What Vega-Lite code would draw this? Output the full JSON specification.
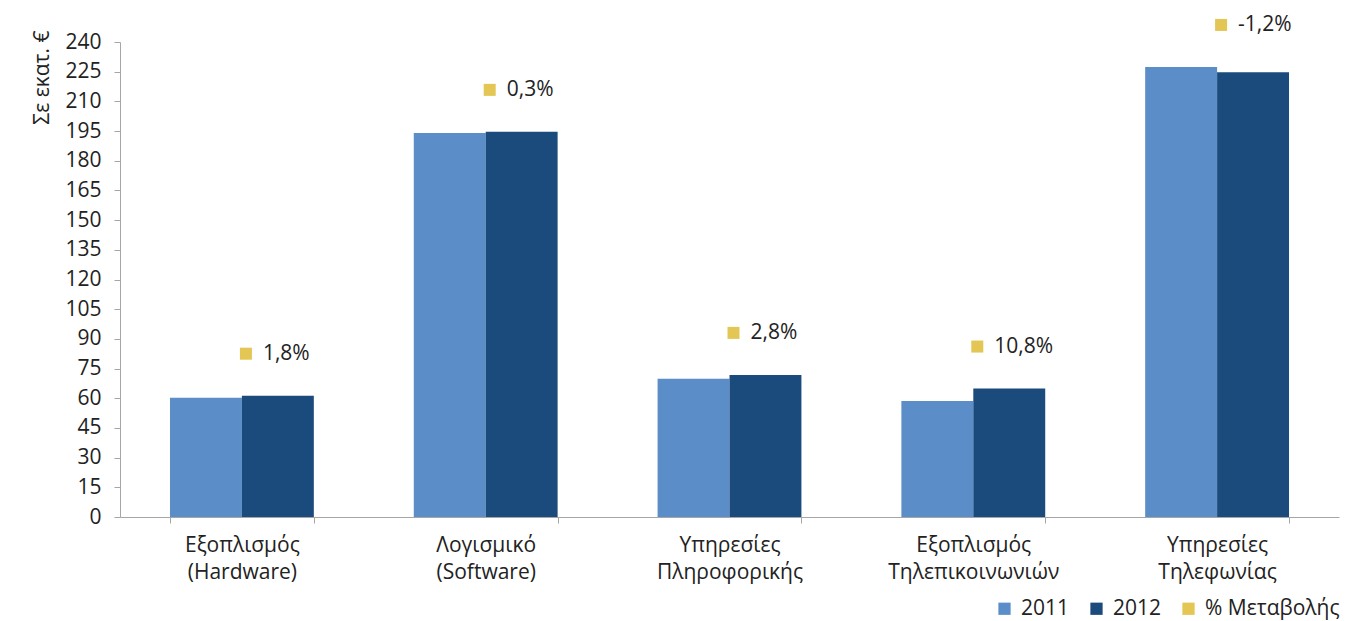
{
  "$schema": "https://vega.github.io/schema/vega-lite/v6.json",
  "autosize": {"type": "none"},
  "padding": {"left": 120, "top": 42, "right": 10, "bottom": 104},
  "width": 1219,
  "height": 475,
  "config": {
    "font": "Open Sans",
    "view": {"stroke": null},
    "axisY": {
      "values": [0, 15, 30, 45, 60, 75, 90, 105, 120, 135, 150, 165, 180, 195, 210, 225, 240],
      "labelOverlap": false, "labelBound": false,
      "grid": false, "titleFontSize": 21, "titleFontWeight": "normal",
      "titleColor": "#222222", "titleAngle": -90, "titleX": -78, "titleY": -12,
      "titleAlign": "right", "titleBaseline": "middle",
      "labelFontSize": 21, "labelColor": "#222222", "labelPadding": 13,
      "tickSize": 6, "domainColor": "#A6A6A6", "tickColor": "#A6A6A6"
    },
    "locale": {"number": {"decimal": ",", "thousands": ".", "grouping": [3], "currency": ["", " €"], "minus": "-"}}
  },
  "data": {
    "values": [
      {"cat": "Εξοπλισμός (Hardware)", "2011": 60.2, "2012": 61.3, "pct": 0.018},
      {"cat": "Λογισμικό (Software)", "2011": 194.0, "2012": 194.6, "pct": 0.003},
      {"cat": "Υπηρεσίες Πληροφορικής", "2011": 69.8, "2012": 71.8, "pct": 0.028},
      {"cat": "Εξοπλισμός Τηλεπικοινωνιών", "2011": 58.6, "2012": 64.9, "pct": 0.108},
      {"cat": "Υπηρεσίες Τηλεφωνίας", "2011": 227.4, "2012": 224.7, "pct": -0.012}
    ]
  },
  "transform": [{"fold": ["2011", "2012"], "as": ["year", "value"]}],
  "encoding": {
    "x": {
      "field": "cat", "type": "nominal", "sort": null,
      "scale": {"paddingInner": 0.41, "paddingOuter": 0.205},
      "axis": {
        "title": null, "labelAngle": 0, "tickBand": "extent",
        "labelExpr": "split(datum.label, ' ')",
        "labelFontSize": 21, "labelColor": "#222222", "labelLineHeight": 27,
        "labelPadding": 11, "tickSize": 6, "domainColor": "#A6A6A6", "tickColor": "#A6A6A6",
        "labelBaseline": "top"
      }
    }
  },
  "layer": [
    {
      "mark": {"type": "bar"},
      "encoding": {
        "xOffset": {"field": "year", "type": "nominal"},
        "y": {
          "field": "value", "type": "quantitative",
          "scale": {"domain": [0, 240], "nice": false},
          "axis": {"title": "Σε εκατ. €", "values": [0, 15, 30, 45, 60, 75, 90, 105, 120, 135, 150, 165, 180, 195, 210, 225, 240]}
        },
        "color": {
          "field": "year", "type": "nominal",
          "scale": {"domain": ["2011", "2012", "% Μεταβολής"], "range": ["#5B8DC9", "#1B4A7C", "#E3C653"]},
          "legend": {
            "title": null, "orient": "none", "legendX": 874, "legendY": 556,
            "direction": "horizontal", "columns": 3, "columnPadding": 16,
            "symbolType": "square", "symbolSize": 150, "symbolStrokeWidth": 0,
            "labelFontSize": 21, "labelColor": "#222222", "labelOffset": 6
          }
        }
      }
    },
    {
      "transform": [{"aggregate": [{"op": "max", "field": "value", "as": "top"}], "groupby": ["cat", "pct"]}],
      "mark": {"type": "point", "shape": "square", "filled": true, "size": 144, "opacity": 1, "xOffset": 4, "yOffset": -42},
      "encoding": {
        "y": {"field": "top", "type": "quantitative", "axis": {"title": "Σε εκατ. €", "values": [0, 15, 30, 45, 60, 75, 90, 105, 120, 135, 150, 165, 180, 195, 210, 225, 240]}},
        "color": {"datum": "% Μεταβολής"}
      }
    },
    {
      "transform": [{"aggregate": [{"op": "max", "field": "value", "as": "top"}], "groupby": ["cat", "pct"]}],
      "mark": {"type": "text", "align": "left", "baseline": "middle", "dx": 21, "yOffset": -42, "fontSize": 21, "color": "#222222"},
      "encoding": {
        "y": {"field": "top", "type": "quantitative", "axis": {"title": "Σε εκατ. €", "values": [0, 15, 30, 45, 60, 75, 90, 105, 120, 135, 150, 165, 180, 195, 210, 225, 240]}},
        "text": {"field": "pct", "type": "quantitative", "format": ".1%"}
      }
    }
  ]
}
